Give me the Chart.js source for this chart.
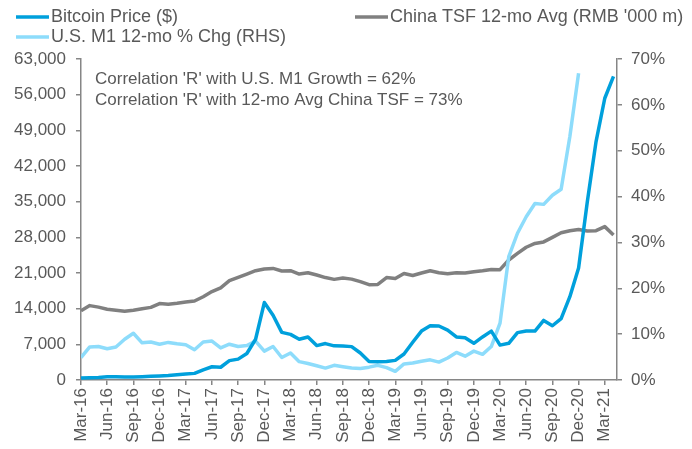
<!DOCTYPE html>
<html>
<head>
<meta charset="utf-8">
<script src="https://cdn.jsdelivr.net/npm/chart.js@4.4.1/dist/chart.umd.min.js"></script>
<style>
  body { margin: 0; background: #fff; }
  canvas { display: block; }
</style>
</head>
<body>
<canvas id="myChart" width="692" height="449"></canvas>
<script>
// monthly, Mar-16 .. Apr-21
const months = [
  "Mar-16","Apr-16","May-16","Jun-16","Jul-16","Aug-16","Sep-16","Oct-16","Nov-16","Dec-16",
  "Jan-17","Feb-17","Mar-17","Apr-17","May-17","Jun-17","Jul-17","Aug-17","Sep-17","Oct-17","Nov-17","Dec-17",
  "Jan-18","Feb-18","Mar-18","Apr-18","May-18","Jun-18","Jul-18","Aug-18","Sep-18","Oct-18","Nov-18","Dec-18",
  "Jan-19","Feb-19","Mar-19","Apr-19","May-19","Jun-19","Jul-19","Aug-19","Sep-19","Oct-19","Nov-19","Dec-19",
  "Jan-20","Feb-20","Mar-20","Apr-20","May-20","Jun-20","Jul-20","Aug-20","Sep-20","Oct-20","Nov-20","Dec-20",
  "Jan-21","Feb-21","Mar-21","Apr-21"
];
const tickLabels = [
  "Mar-16","Jun-16","Sep-16","Dec-16","Mar-17","Jun-17","Sep-17","Dec-17","Mar-18","Jun-18","Sep-18",
  "Dec-18","Mar-19","Jun-19","Sep-19","Dec-19","Mar-20","Jun-20","Sep-20","Dec-20","Mar-21"
];
const bitcoin = [
  400, 450, 500, 620, 620, 580, 600, 650, 720, 800,
  900, 1050, 1180, 1300, 2000, 2600, 2500, 3800, 4100, 5200, 8000, 15200,
  12700, 9350, 8950, 8000, 8450, 6750, 7150, 6700, 6650, 6550, 5300, 3650,
  3600, 3650, 3850, 5100, 7400, 9600, 10650, 10600, 9800, 8450, 8300, 7200,
  8450, 9600, 6850, 7200, 9300, 9600, 9600, 11700, 10650, 12050, 16350, 22000,
  35000, 46800, 55300, 59600
];
const chinaTsf = [
  13600, 14600, 14300, 13900, 13700, 13500, 13700, 14000, 14250, 15000,
  14850, 15050, 15300, 15500, 16350, 17350, 18100, 19500, 20150, 20800, 21450, 21800,
  21900, 21400, 21450, 20800, 21050, 20600, 20100, 19750, 20000, 19800, 19300, 18700,
  18750, 20100, 19900, 20900, 20500, 21000, 21450, 21050, 20850, 21050, 21000, 21250,
  21450, 21700, 21650, 23550, 24850, 26050, 26800, 27100, 28000, 28900, 29300, 29550,
  29250, 29300, 30100, 28450
];
// % chg, ends Dec-20
const usM1 = [
  4.9, 7.2, 7.3, 6.8, 7.2, 8.9, 10.2, 8.1, 8.3, 7.8,
  8.2, 7.9, 7.7, 6.6, 8.3, 8.5, 7.0, 7.8, 7.3, 7.5, 8.5, 6.3,
  7.3, 4.9, 5.9, 4.0, 3.6, 3.1, 2.6, 3.2, 2.9, 2.6, 2.5, 2.8,
  3.2, 2.7, 1.9, 3.5, 3.7, 4.1, 4.4, 3.9, 4.8, 6.0, 5.2, 6.3,
  5.6, 7.3, 12.4, 26.9, 32.0, 35.6, 38.5, 38.3, 40.3, 41.6, 53.1, 66.9
];
const notes = [
  "Correlation 'R' with U.S. M1 Growth = 62%",
  "Correlation 'R' with 12-mo Avg China TSF = 73%"
];

const FONT = '"Liberation Sans", Arial, sans-serif';
const TXT = "#595959";
const AXIS = "#868686";
const cBitcoin = "#00a0dc";
const cTsf = "#808080";
const cM1 = "#8ddcfb";

const pts = (arr) => arr.map((v, i) => ({ x: i, y: v }));

// legend + correlation note
const overlay = {
  id: "overlay",
  afterDraw(chart) {
    const c = chart.ctx;
    c.save();
    c.textBaseline = "middle";
    c.fillStyle = TXT;
    c.font = "18px " + FONT;
    const items = [
      { label: "Bitcoin Price ($)", color: cBitcoin, x: 16, y: 17 },
      { label: "China TSF 12-mo Avg (RMB '000 m)", color: cTsf, x: 355, y: 17 },
      { label: "U.S. M1 12-mo % Chg (RHS)", color: cM1, x: 16, y: 37 }
    ];
    items.forEach((it) => {
      c.strokeStyle = it.color;
      c.lineWidth = 3.5;
      c.beginPath();
      c.moveTo(it.x, it.y);
      c.lineTo(it.x + 33, it.y);
      c.stroke();
      c.fillText(it.label, it.x + 35, it.y);
    });
    c.font = "17px " + FONT;
    c.fillText(notes[0], 95, 79);
    c.fillText(notes[1], 95, 100);
    c.restore();
  }
};

const gridOpts = { display: true, drawOnChartArea: false, drawTicks: true, tickLength: 5, color: AXIS, lineWidth: 1.5 };
const borderOpts = { display: true, color: AXIS, width: 1.5 };

new Chart(document.getElementById("myChart").getContext("2d"), {
  type: "line",
  data: {
    datasets: [
      { label: "Bitcoin Price ($)", data: pts(bitcoin), borderColor: cBitcoin, yAxisID: "y" },
      { label: "U.S. M1 12-mo % Chg (RHS)", data: pts(usM1), borderColor: cM1, yAxisID: "y1" },
      { label: "China TSF 12-mo Avg (RMB '000 m)", data: pts(chinaTsf), borderColor: cTsf, yAxisID: "y" }
    ]
  },
  options: {
    responsive: false,
    animation: false,
    layout: { padding: { top: 59, left: 0, right: 0, bottom: 0 } },
    elements: {
      line: { borderWidth: 3.5, tension: 0, fill: false, borderCapStyle: "butt", borderJoinStyle: "round" },
      point: { radius: 0 }
    },
    plugins: { legend: { display: false }, tooltip: { enabled: false } },
    scales: {
      x: {
        type: "linear",
        min: 0,
        max: 61.4,
        grid: gridOpts,
        border: borderOpts,
        afterBuildTicks: (s) => { s.ticks = tickLabels.map((_, k) => ({ value: k * 3 })); },
        afterFit: (s) => { s.height = 69; },
        ticks: {
          autoSkip: false,
          minRotation: 90,
          maxRotation: 90,
          padding: 3,
          color: TXT,
          font: { family: FONT, size: 17 },
          callback: (v) => months[v]
        }
      },
      y: {
        position: "left",
        min: 0,
        max: 63000,
        grid: gridOpts,
        border: borderOpts,
        afterFit: (s) => { s.width = 81; },
        ticks: {
          stepSize: 7000,
          padding: 10,
          color: TXT,
          font: { family: FONT, size: 17 },
          callback: (v) => v.toLocaleString("en-US")
        }
      },
      y1: {
        position: "right",
        min: 0,
        max: 70,
        grid: gridOpts,
        border: borderOpts,
        afterFit: (s) => { s.width = 75; },
        ticks: {
          stepSize: 10,
          padding: 9,
          color: TXT,
          font: { family: FONT, size: 17 },
          callback: (v) => v + "%"
        }
      }
    }
  },
  plugins: [overlay]
});
</script>
</body>
</html>
